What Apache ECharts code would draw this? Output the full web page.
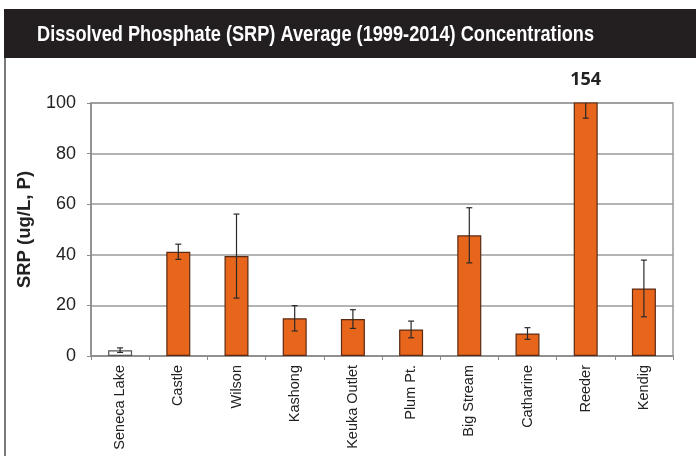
<!DOCTYPE html>
<html>
<head>
<meta charset="utf-8">
<script src="https://cdn.jsdelivr.net/npm/echarts@6/dist/echarts.min.js"></script>
<style>
  html, body { margin: 0; padding: 0; background: #ffffff; }
  #chart { width: 696px; height: 456px; }
</style>
</head>
<body>
<div id="chart"></div>
<script>
// Sites sampled along the lake and its tributaries
const sites = ['Seneca Lake', 'Castle', 'Wilson', 'Kashong', 'Keuka Outlet',
               'Plum Pt.', 'Big Stream', 'Catharine', 'Reeder', 'Kendig'];
// Average SRP (ug/L, P), 1999-2014
const srpMean = [2.3, 41.2, 39.5, 14.9, 14.6, 10.5, 47.7, 8.9, 154, 26.7];
// Error bar half-widths
const srpErr = [0.9, 3.0, 16.6, 5.0, 3.7, 3.3, 10.9, 2.3, 60, 11.2];
// Y axis ticks
const yTicks = [0, 20, 40, 60, 80, 100];

const titleText = 'Dissolved Phosphate (SRP) Average (1999-2014) Concentrations';
const titleFont = 'bold 22px "Liberation Sans", Arial, sans-serif';
const titleWidth = 557;

// Squeeze the heading into a condensed banner style
const measureCtx = document.createElement('canvas').getContext('2d');
measureCtx.font = titleFont;
const titleScale = titleWidth / measureCtx.measureText(titleText).width;

const chart = echarts.init(document.getElementById('chart'), null, { renderer: 'canvas' });

const barData = srpMean.map((v, i) => {
  const item = { value: v };
  if (i === 0) {
    item.itemStyle = { color: '#ffffff', borderColor: '#555555', borderWidth: 1.2 };
  }
  if (v > yTicks[yTicks.length - 1]) {
    item.label = {
      show: true, position: 'top', distance: 14,
      formatter: String(v),
      fontFamily: 'Open Sans', fontWeight: 'bold', fontSize: 18, color: '#222222'
    };
  }
  return item;
});

const errData = srpMean.map((v, i) => [i, v - srpErr[i], v + srpErr[i]]);

chart.setOption({
  animation: false,
  backgroundColor: '#ffffff',
  graphic: [
    { type: 'rect', z: -1, shape: { x: 4, y: 9, width: 692, height: 49 }, style: { fill: '#231f20' } },
    { type: 'rect', z: -1, shape: { x: 4, y: 58, width: 2, height: 398 }, style: { fill: '#7a7a7a' } },
    {
      type: 'text', z: 10, x: 37, y: 35, scaleX: titleScale,
      style: {
        text: titleText, font: titleFont, fill: '#ffffff',
        textAlign: 'left', textVerticalAlign: 'middle'
      }
    }
  ],
  grid: {
    left: 91, right: 23, top: 103, bottom: 100,
    show: true, borderColor: '#9a9a9a', borderWidth: 1.5, backgroundColor: 'transparent'
  },
  xAxis: {
    type: 'category',
    data: sites,
    axisLine: { lineStyle: { color: '#8a8a8a', width: 1.5 } },
    axisTick: { show: true, length: 4, lineStyle: { color: '#8a8a8a' } },
    axisLabel: {
      rotate: 90, margin: 9, interval: 0,
      fontFamily: 'Liberation Sans', fontSize: 14.5, color: '#222222'
    }
  },
  yAxis: {
    type: 'value',
    min: yTicks[0], max: yTicks[yTicks.length - 1], interval: 20,
    name: 'SRP (ug/L, P)',
    nameLocation: 'middle', nameGap: 57,
    nameTextStyle: { fontFamily: 'Liberation Sans', fontWeight: 'bold', fontSize: 18.5, color: '#222222' },
    axisLine: { show: true, lineStyle: { color: '#8a8a8a', width: 1.5 } },
    axisTick: { show: true, length: 4, lineStyle: { color: '#8a8a8a' } },
    axisLabel: { fontFamily: 'Liberation Sans', fontSize: 18, color: '#222222', margin: 15 },
    splitLine: { lineStyle: { color: '#9a9a9a', width: 1.5 } }
  },
  series: [
    {
      type: 'bar',
      data: barData,
      barWidth: 24,
      clip: true,
      itemStyle: { color: '#e8651c', borderColor: '#5a2a12', borderWidth: 1.2 }
    },
    {
      type: 'custom',
      clip: true,
      z: 5,
      data: errData,
      renderItem: function (params, api) {
        const x = api.value(0);
        const lo = api.coord([x, api.value(1)]);
        const hi = api.coord([x, api.value(2)]);
        const cap = 3;
        const st = { stroke: '#2a2a2a', lineWidth: 1.2 };
        return {
          type: 'group',
          children: [
            { type: 'line', shape: { x1: lo[0], y1: lo[1], x2: hi[0], y2: hi[1] }, style: st },
            { type: 'line', shape: { x1: lo[0] - cap, y1: lo[1], x2: lo[0] + cap, y2: lo[1] }, style: st },
            { type: 'line', shape: { x1: hi[0] - cap, y1: hi[1], x2: hi[0] + cap, y2: hi[1] }, style: st }
          ]
        };
      }
    }
  ]
});
</script>
</body>
</html>
